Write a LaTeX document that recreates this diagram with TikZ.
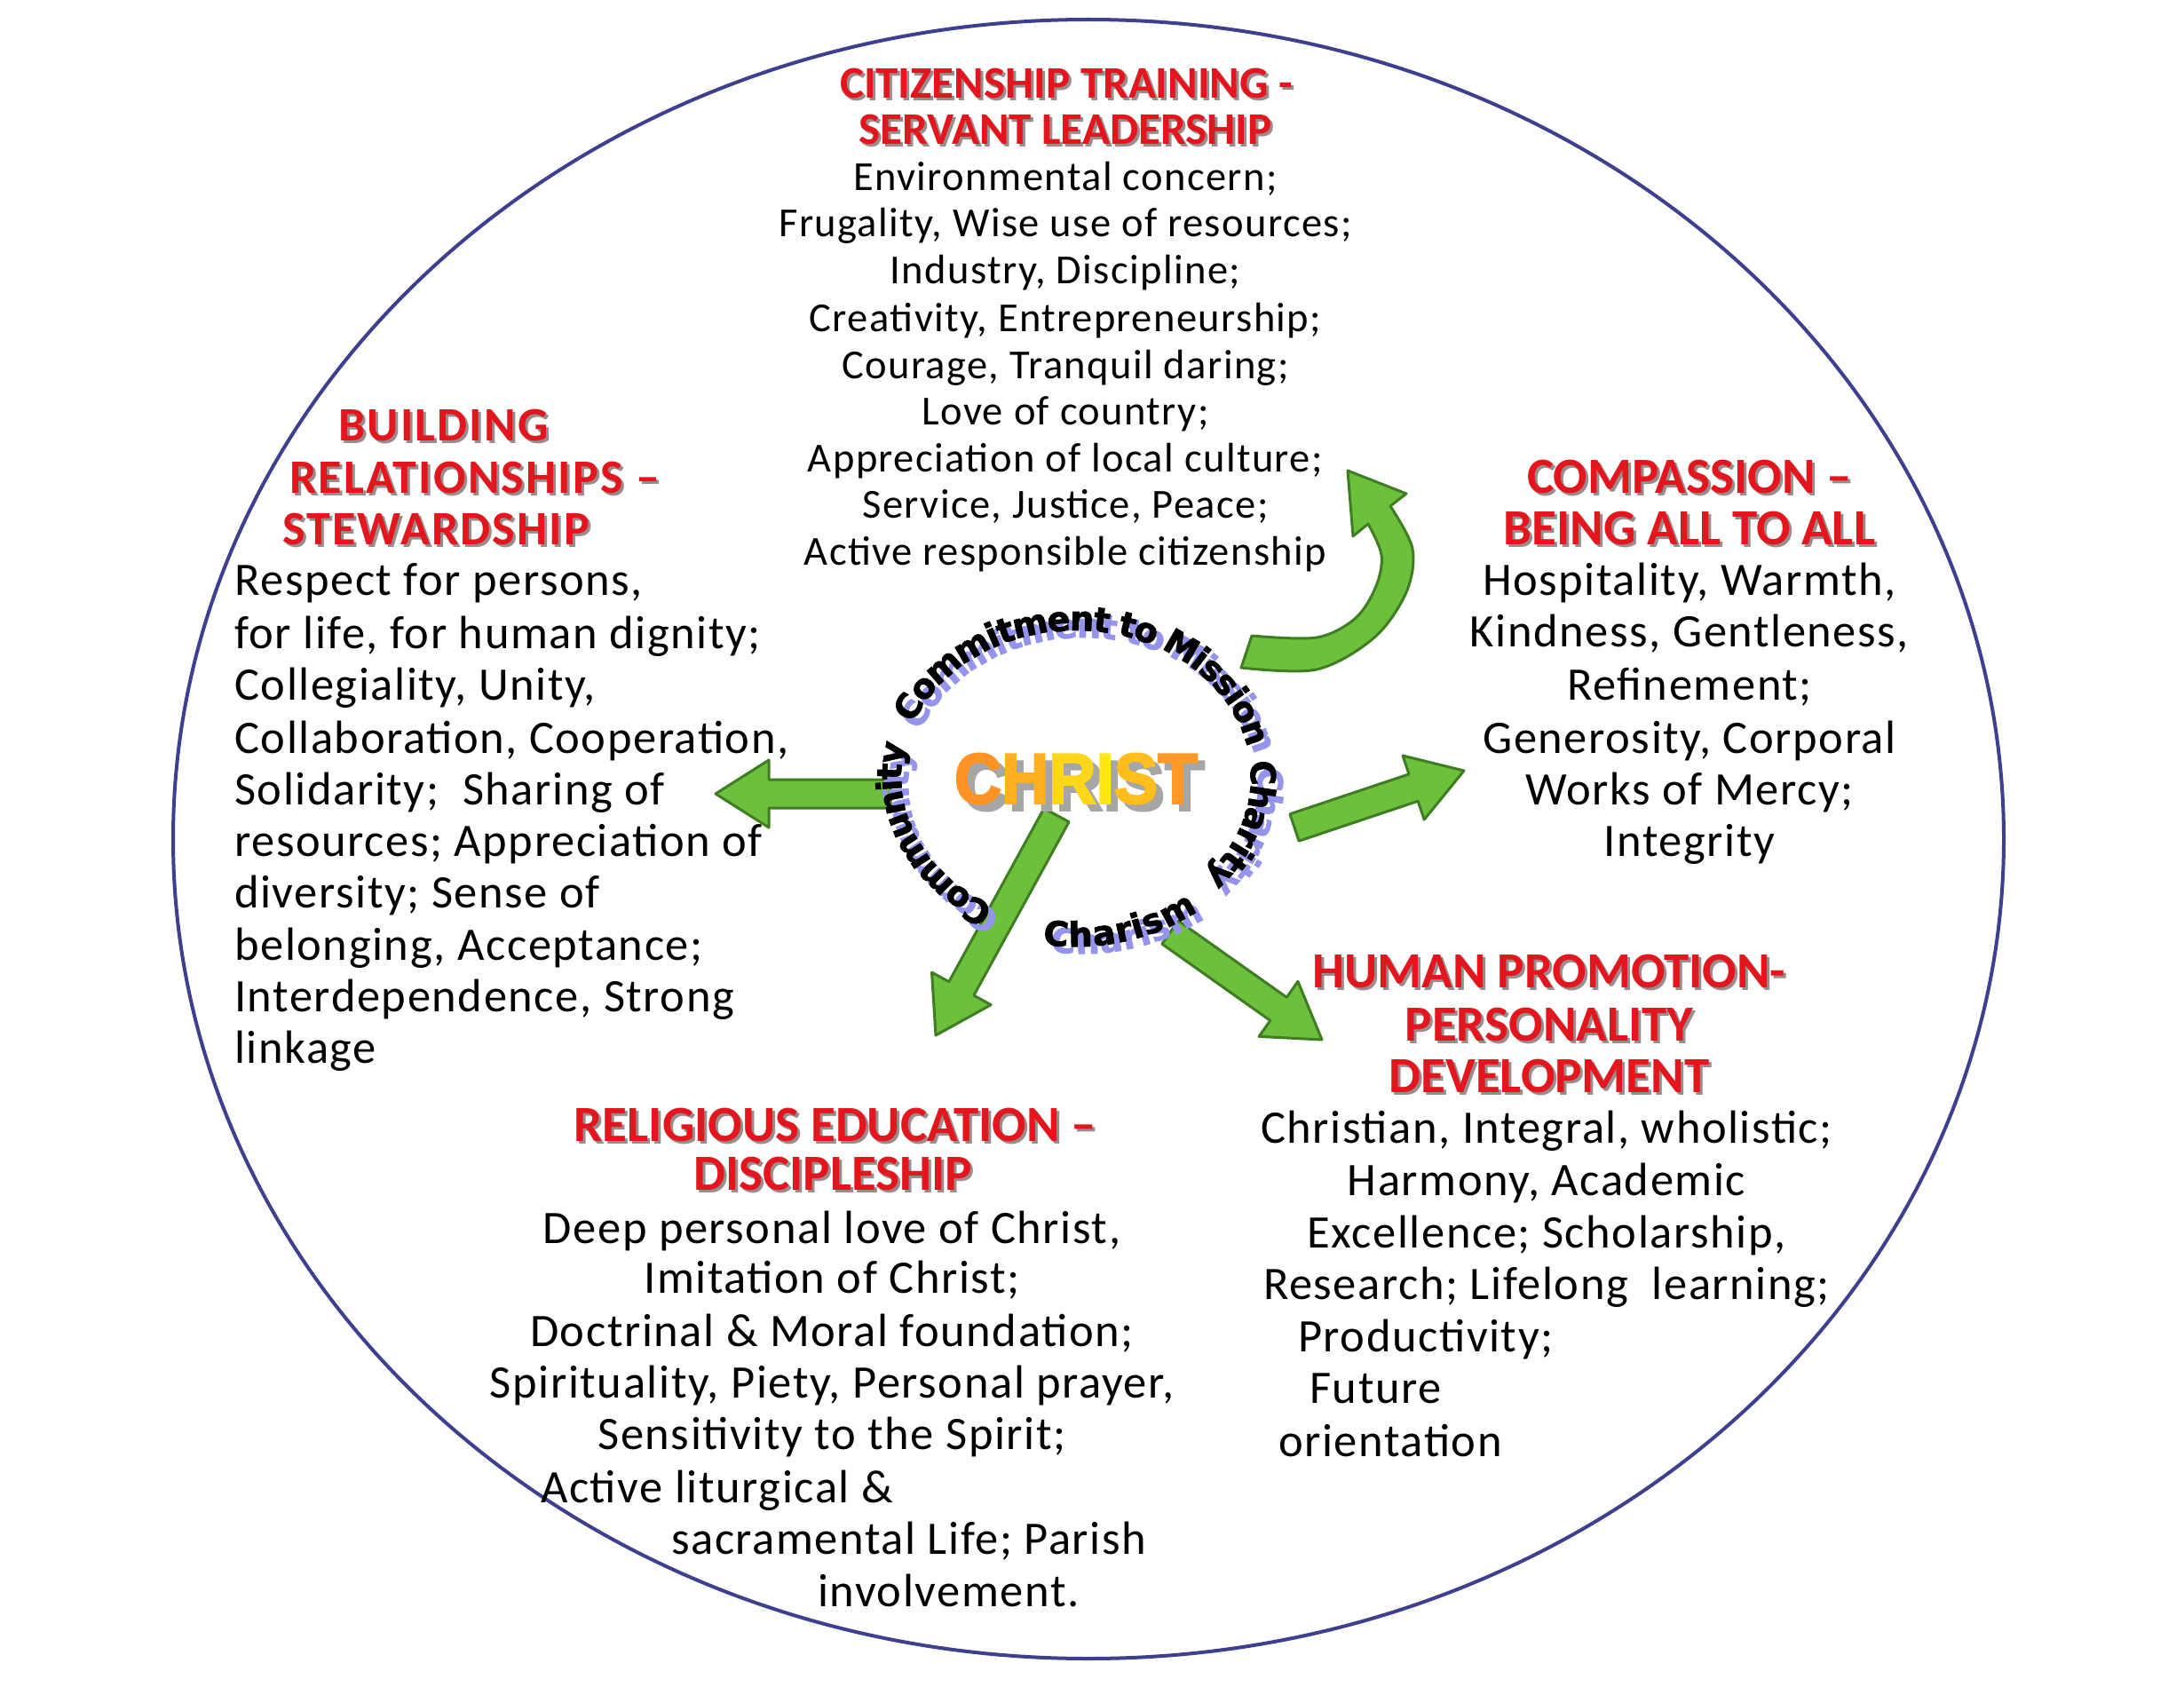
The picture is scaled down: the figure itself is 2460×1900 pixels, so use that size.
\documentclass[tikz,border=0pt]{standalone}
\usepackage{fontspec}
\setmainfont{Carlito}
\newfontfamily\bodyfam[LetterSpace=3]{Carlito}
\newfontfamily\headfam{Carlito}
\newfontfamily\headwidefam[LetterSpace=4]{Carlito}
\newfontfamily\ringfam[LetterSpace=-5, FakeBold=2.5]{DejaVu Sans}
\newfontfamily\christfam[FakeBold=3]{Liberation Sans}
\usetikzlibrary{decorations.text}

\definecolor{headred}{HTML}{E3161E}
\definecolor{headshade}{HTML}{9A8C8C}
\definecolor{leaf}{HTML}{6DC03C}
\definecolor{leafedge}{HTML}{3E7D22}
\definecolor{ringblue}{HTML}{9494EC}
\definecolor{rimblue}{HTML}{3F3F8F}
\definecolor{chrA}{HTML}{FF9326}
\definecolor{chrB}{HTML}{FFB020}
\definecolor{chrC}{HTML}{FFD61A}
\definecolor{chrD}{HTML}{FFE812}
\definecolor{chrE}{HTML}{FFBE1E}
\definecolor{chrF}{HTML}{FF9A26}

\tikzset{
  toptext/.style={font=\bodyfam\fontsize{46.5}{50}\selectfont, inner sep=0pt, yshift=-13pt},
  bodytext/.style={font=\bodyfam\fontsize{52.5}{58}\selectfont, inner sep=0pt, yshift=-14pt},
  tophead/.style={font=\headfam\bfseries\fontsize{51}{54}\selectfont, inner sep=0pt, text=headred, yshift=-14pt},
  head/.style={font=\headfam\bfseries\fontsize{57}{60}\selectfont, inner sep=0pt, text=headred, yshift=-15pt},
  headwide/.style={font=\headwidefam\bfseries\fontsize{54}{60}\selectfont, inner sep=0pt, text=headred, yshift=-15pt},
  blockarrow/.style={fill=leaf, draw=leafedge, line width=3pt, line join=round},
}

% red heading line with its grey drop shadow
\newcommand\headline[6]{%
  \node[#1, anchor=#5, text=headshade, xshift=3pt, yshift=-3pt] (#2s) at (#3,#4) {#6};
  \node[#1, anchor=#5] (#2) at (#3,#4) {#6};
}

% straight block arrow from one named coordinate to another
\newdimen\ardx \newdimen\ardy
\newcommand\greenarrow[2]{%
  \pgfextractx{\ardx}{\pgfpointdiff{\pgfpointanchor{#1}{center}}{\pgfpointanchor{#2}{center}}}%
  \pgfextracty{\ardy}{\pgfpointdiff{\pgfpointanchor{#1}{center}}{\pgfpointanchor{#2}{center}}}%
  \pgfmathsetmacro\arang{atan2(\ardy,\ardx)}%
  \pgfmathsetmacro\arlen{veclen(\ardx,\ardy)}%
  \draw[blockarrow, shift={(#1)}, rotate=\arang]
    (0,-16) -- (\arlen-60,-16) -- (\arlen-60,-38) -- (\arlen,0)
    -- (\arlen-60,38) -- (\arlen-60,16) -- (0,16) -- cycle;
}

\newcommand\ringfont{\ringfam\bfseries\fontsize{38}{38}\selectfont}
% one word of the ring: start angle, end angle, colour, text, x/y offset
\newcommand\ringword[6]{%
  \path[decorate, decoration={text along path, text align=center, raise=-13pt,
      text={|\ringfont\color{#3}|#4}}]
    ([shift={(#1:210 and 178)}, xshift=#5, yshift=#6]hub)
    arc[start angle=#1, end angle=#2, x radius=210, y radius=178];
}

\begin{document}
\begin{tikzpicture}[x=1pt,y=1pt]
\useasboundingbox (0,0) rectangle (2460,-1900);
\fill[white] (0,0) rectangle (2460,-1900);

% outer rim
\draw[rimblue, line width=4pt] (1226,-945) ellipse [x radius=1031, y radius=923];

% ---------- arrows ----------
\coordinate (aLt) at (1003,-894);  \coordinate (aLh) at (806,-894);
\coordinate (aRt) at (1458,-932);  \coordinate (aRh) at (1649,-868);
\coordinate (aDLt) at (1190,-918); \coordinate (aDLh) at (1054,-1166);
\coordinate (aDRt) at (1318,-1050);\coordinate (aDRh) at (1489,-1171);
\greenarrow{aLt}{aLh}
\greenarrow{aRt}{aRh}
\greenarrow{aDLt}{aDLh}
\greenarrow{aDRt}{aDRh}

% curved arrow rising toward the top block
\draw[blockarrow]
  plot[smooth, tension=0.55] coordinates {(1398,-752) (1483,-754) (1548,-718) (1584,-667) (1591,-618) (1566,-570)}
  -- (1584,-556) -- (1518,-530) -- (1524,-604)
  -- plot[smooth, tension=0.55] coordinates {(1541,-590) (1556,-625) (1550,-660) (1527,-696) (1483,-718) (1410,-716)}
  -- cycle;

% ---------- centre ring ----------
\coordinate (hub) at (1212,-875);
\ringword{175}{-5}{ringblue}{Commitment to Mission}{8pt}{-8pt}
\ringword{15}{-51}{ringblue}{Charity}{8pt}{-8pt}
\ringword{-120}{-30}{ringblue}{Charism}{8pt}{-8pt}
\ringword{-110}{-202}{ringblue}{Community}{8pt}{-8pt}
\ringword{175}{-5}{black}{Commitment to Mission}{0pt}{0pt}
\ringword{15}{-51}{black}{Charity}{0pt}{0pt}
\ringword{-120}{-30}{black}{Charism}{0pt}{0pt}
\ringword{-110}{-202}{black}{Community}{0pt}{0pt}

\node[font=\christfam\bfseries\fontsize{80}{80}\selectfont, inner sep=0pt, text=black!35]
  (christS) at (1220,-885) {\scalebox{0.92}[1]{CHRIST}};
\node[font=\christfam\bfseries\fontsize{80}{80}\selectfont, inner sep=0pt]
  (christ) at (1212,-877) {\scalebox{0.92}[1]{{\color{chrA}C}{\color{chrB}H}{\color{chrC}R}{\color{chrD}I}{\color{chrE}S}{\color{chrF}T}}};

% ---------- citizenship training ----------
\headline{tophead}{cth1}{1201}{-94}{mid}{CITIZENSHIP TRAINING -}
\headline{tophead}{cth2}{1200}{-146}{mid}{SERVANT LEADERSHIP}
\node[toptext, anchor=mid] (ct1) at (1200,-199) {Environmental concern;};
\node[toptext, anchor=mid] (ct2) at (1200,-251) {Frugality, Wise use of resources;};
\node[toptext, anchor=mid] (ct3) at (1200,-304) {Industry, Discipline;};
\node[toptext, anchor=mid] (ct4) at (1200,-358) {Creativity, Entrepreneurship;};
\node[toptext, anchor=mid] (ct5) at (1200,-411) {Courage, Tranquil daring;};
\node[toptext, anchor=mid] (ct6) at (1200,-463) {Love of country;};
\node[toptext, anchor=mid] (ct7) at (1200,-516) {Appreciation of local culture;};
\node[toptext, anchor=mid] (ct8) at (1200,-568) {Service, Justice, Peace;};
\node[toptext, anchor=mid] (ct9) at (1200,-621) {Active responsible citizenship};

% ---------- building relationships ----------
\headline{headwide}{brh1}{381}{-479}{mid west}{BUILDING}
\headline{headwide}{brh2}{326}{-538}{mid west}{RELATIONSHIPS –}
\headline{headwide}{brh3}{318}{-596}{mid west}{STEWARDSHIP}
\node[bodytext, anchor=mid west] (br1) at (264,-654) {Respect for persons,};
\node[bodytext, anchor=mid west] (br2) at (264,-714) {for life, for human dignity;};
\node[bodytext, anchor=mid west] (br3) at (264,-772) {Collegiality, Unity,};
\node[bodytext, anchor=mid west] (br4) at (264,-832) {Collaboration, Cooperation,};
\node[bodytext, anchor=mid west] (br5) at (264,-890) {Solidarity;\ \ Sharing of};
\node[bodytext, anchor=mid west] (br6) at (264,-948) {resources; Appreciation of};
\node[bodytext, anchor=mid west] (br7) at (264,-1006) {diversity; Sense of};
\node[bodytext, anchor=mid west] (br8) at (264,-1065) {belonging, Acceptance;};
\node[bodytext, anchor=mid west] (br9) at (264,-1123) {Interdependence, Strong};
\node[bodytext, anchor=mid west] (br10) at (264,-1181) {linkage};

% ---------- compassion ----------
\headline{head}{cph1}{1903}{-538}{mid}{COMPASSION –}
\headline{head}{cph2}{1903}{-596}{mid}{BEING ALL TO ALL}
\node[bodytext, anchor=mid] (cp1) at (1903,-654) {Hospitality, Warmth,};
\node[bodytext, anchor=mid] (cp2) at (1903,-712) {Kindness, Gentleness,};
\node[bodytext, anchor=mid] (cp3) at (1903,-772) {Refinement;};
\node[bodytext, anchor=mid] (cp4) at (1903,-832) {Generosity, Corporal};
\node[bodytext, anchor=mid] (cp5) at (1903,-890) {Works of Mercy;};
\node[bodytext, anchor=mid] (cp6) at (1903,-948) {Integrity};

% ---------- human promotion ----------
\headline{head}{hph1}{1745}{-1095}{mid}{HUMAN PROMOTION-}
\headline{head}{hph2}{1745}{-1155}{mid}{PERSONALITY}
\headline{head}{hph3}{1745}{-1213}{mid}{DEVELOPMENT}
\node[bodytext, anchor=mid] (hp1) at (1742,-1271) {Christian, Integral, wholistic;};
\node[bodytext, anchor=mid] (hp2) at (1742,-1330) {Harmony, Academic};
\node[bodytext, anchor=mid] (hp3) at (1742,-1389) {Excellence; Scholarship,};
\node[bodytext, anchor=mid] (hp4) at (1742,-1447) {Research; Lifelong\ \ learning;};
\node[bodytext, anchor=mid west] (hp5) at (1462,-1506) {Productivity;};
\node[bodytext, anchor=mid west] (hp6) at (1475,-1564) {Future};
\node[bodytext, anchor=mid west] (hp7) at (1440,-1624) {orientation};

% ---------- religious education ----------
\headline{head}{reh1}{941}{-1268}{mid}{RELIGIOUS EDUCATION –}
\headline{head}{reh2}{938}{-1323}{mid}{DISCIPLESHIP}
\node[bodytext, anchor=mid] (re1) at (937,-1384) {Deep personal love of Christ,};
\node[bodytext, anchor=mid] (re2) at (937,-1440) {Imitation of Christ;};
\node[bodytext, anchor=mid] (re3) at (937,-1500) {Doctrinal \& Moral foundation;};
\node[bodytext, anchor=mid] (re4) at (937,-1558) {Spirituality, Piety, Personal prayer,};
\node[bodytext, anchor=mid] (re5) at (937,-1616) {Sensitivity to the Spirit;};
\node[bodytext, anchor=mid west] (re6) at (609,-1676) {Active liturgical \&};
\node[bodytext, anchor=mid west] (re7) at (756,-1734) {sacramental Life; Parish};
\node[bodytext, anchor=mid west] (re8) at (921,-1793) {involvement.};
\end{tikzpicture}
\end{document}
